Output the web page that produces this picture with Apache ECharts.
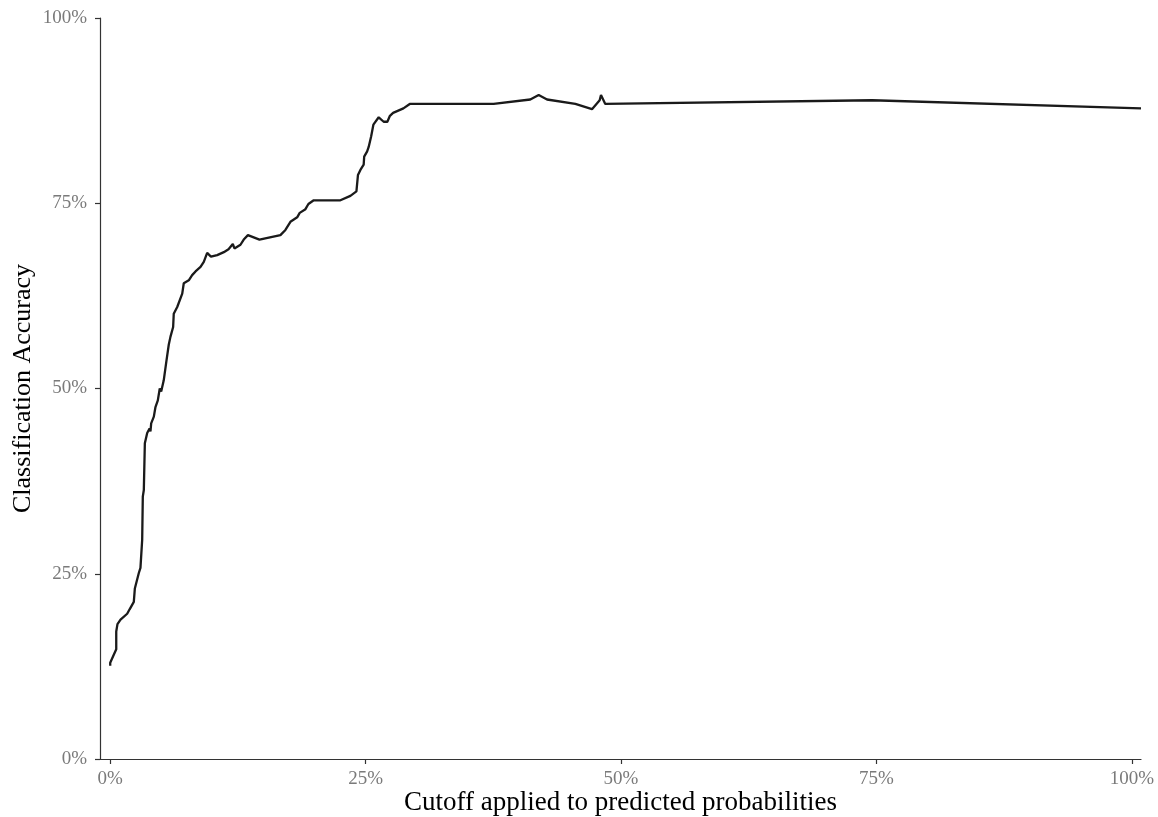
<!DOCTYPE html>
<html>
<head>
<meta charset="utf-8">
<script src="https://cdn.jsdelivr.net/npm/echarts@6/dist/echarts.min.js"></script>
<style>
  html, body { margin: 0; padding: 0; background: #ffffff; }
  #chart { width: 1158px; height: 817px; }
</style>
</head>
<body>
<div id="chart"></div>
<script>
// Cutoff (%) applied to predicted probabilities
const cutoff = [
  0.0, 0.0, 0.13, 0.59, 0.59, 0.71, 1.01, 1.66, 1.9, 2.31, 2.41, 2.8, 2.96, 3.13, 3.19,
  3.29, 3.39, 3.62, 3.85, 3.94, 4.01, 4.27, 4.43, 4.66, 4.85, 4.99, 5.24, 5.51, 5.73,
  5.9, 6.16, 6.22, 6.56, 7.05, 7.2, 7.69, 8.02, 8.35, 8.84, 9.16, 9.49, 9.86, 10.47,
  11.12, 11.58, 12.0, 12.16, 12.75, 13.07, 13.48, 14.61, 16.66, 17.15, 17.64, 18.3,
  18.55, 19.11, 19.4, 19.92, 22.53, 23.51, 24.1, 24.25, 24.49, 24.81, 24.86, 25.15,
  25.3, 25.54, 25.76, 26.28, 26.77, 27.13, 27.38, 27.69, 28.7, 29.32, 37.53, 41.12,
  41.94, 42.76, 45.53, 47.16, 47.91, 48.04, 48.46, 74.59, 100.9
];
// Classification accuracy (%) at each cutoff
const accuracy = [
  12.6, 13.0, 13.4, 14.8, 17.2, 18.2, 18.8, 19.6, 20.2, 21.2, 23.0, 25.1, 25.8, 29.6, 35.4,
  36.3, 42.6, 44.0, 44.6, 44.2, 45.3, 46.2, 47.5, 48.4, 50.0, 49.6, 51.1, 53.8, 55.9,
  57.0, 58.3, 60.1, 61.0, 62.8, 64.2, 64.6, 65.3, 65.8, 66.4, 67.1, 68.3, 67.8, 68.0,
  68.4, 68.8, 69.5, 68.9, 69.4, 70.1, 70.7, 70.1, 70.7, 71.4, 72.5, 73.1,
  73.7, 74.2, 74.9, 75.4, 75.4, 76.0, 76.6, 78.8, 79.5, 80.2, 81.3, 82.0,
  82.6, 84.0, 85.6, 86.6, 86.0, 86.0, 86.8, 87.2, 87.8, 88.4, 88.4, 89.0,
  89.6, 89.0, 88.4, 87.7, 88.9, 89.6, 88.4, 88.9, 87.8
];
// Tick positions shared by both axes
const tickValues = [0, 25, 50, 75, 100];

const points = cutoff.map((c, i) => [c, accuracy[i]]);

const serif = '"Liberation Serif", "DejaVu Serif", serif';
const axisColor = '#333333';
const tickLabelColor = '#7a7a7a';

const chart = echarts.init(document.getElementById('chart'), null, { renderer: 'canvas' });
chart.setOption({
  animation: false,
  backgroundColor: '#ffffff',
  grid: { left: 100, right: 17, top: 18, bottom: 58, containLabel: false, outerBoundsMode: 'none' },
  xAxis: {
    type: 'value',
    min: -1.0,
    max: 100.9,
    name: 'Cutoff applied to predicted probabilities',
    nameLocation: 'middle',
    nameGap: 30,
    nameMoveOverlap: false,
    nameTextStyle: { fontFamily: serif, fontSize: 27, color: '#000000' },
    axisLine: { show: true, onZero: false, lineStyle: { color: axisColor, width: 1.2 } },
    axisTick: { show: true, length: 5, customValues: tickValues, lineStyle: { color: axisColor, width: 1.2 } },
    axisLabel: {
      customValues: tickValues,
      formatter: v => v + '%',
      fontFamily: serif, fontSize: 19, color: tickLabelColor, margin: 11
    },
    splitLine: { show: false }
  },
  yAxis: {
    type: 'value',
    min: 0,
    max: 100,
    interval: 25,
    name: 'Classification Accuracy',
    nameLocation: 'middle',
    nameGap: 64,
    nameMoveOverlap: false,
    nameTextStyle: { fontFamily: serif, fontSize: 26, color: '#000000' },
    axisLine: { show: true, onZero: false, lineStyle: { color: axisColor, width: 1.2 } },
    axisTick: { show: true, length: 5, lineStyle: { color: axisColor, width: 1.2 } },
    axisLabel: {
      formatter: v => v + '%',
      fontFamily: serif, fontSize: 19, color: tickLabelColor, margin: 13
    },
    splitLine: { show: false }
  },
  series: [{
    type: 'line',
    data: points,
    showSymbol: false,
    smooth: false,
    lineStyle: { color: '#1a1a1a', width: 2.3 },
    clip: false
  }]
});
</script>
</body>
</html>
